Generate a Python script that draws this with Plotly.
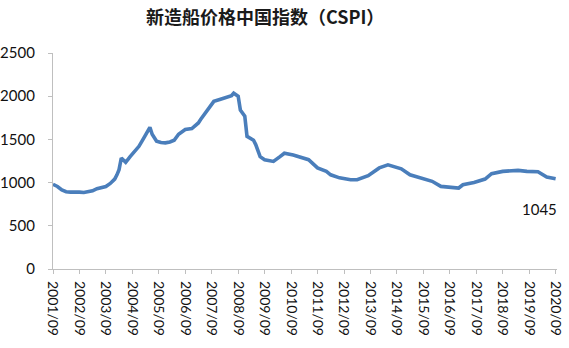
import plotly.graph_objects as go

dates = ["2001-09", "2001-11", "2002-01", "2002-03", "2002-05", "2002-07", "2002-09", "2002-11",
         "2003-01", "2003-03", "2003-05", "2003-07", "2003-09", "2003-11", "2004-01", "2004-02",
         "2004-03", "2004-04", "2004-06", "2004-08", "2004-10", "2004-12", "2005-02", "2005-04",
         "2005-05", "2005-06", "2005-08", "2005-10", "2005-12", "2006-02", "2006-04", "2006-06",
         "2006-09", "2006-12", "2007-03", "2007-04", "2007-07", "2007-10", "2008-01", "2008-04",
         "2008-06", "2008-07", "2008-09", "2008-10", "2008-12", "2009-01", "2009-04", "2009-05",
         "2009-07", "2009-09", "2010-01", "2010-04", "2010-06", "2010-10", "2011-03", "2011-05",
         "2011-09", "2012-01", "2012-03", "2012-07", "2012-12", "2013-03", "2013-08", "2014-01",
         "2014-05", "2014-11", "2015-03", "2015-08", "2016-01", "2016-05", "2016-09", "2017-01",
         "2017-03", "2017-08", "2018-01", "2018-04", "2018-09", "2019-04", "2019-08", "2020-01",
         "2020-05", "2020-09"]
cspi = [980, 955, 915, 895, 890, 895, 890, 885,
        890, 905, 930, 945, 955, 990, 1040, 1090,
        1150, 1285, 1235, 1300, 1360, 1420, 1510, 1600,
        1640, 1560, 1480, 1465, 1460, 1470, 1490, 1560,
        1615, 1625, 1690, 1730, 1830, 1940, 1965, 1990,
        2005, 2035, 2000, 1840, 1770, 1535, 1490, 1440,
        1300, 1265, 1245, 1300, 1340, 1320, 1275, 1265,
        1170, 1130, 1090, 1055, 1033, 1033, 1080, 1170,
        1205, 1160, 1090, 1053, 1015, 956, 944, 937,
        975, 1002, 1041, 1103, 1130, 1141, 1130, 1126,
        1064, 1045]

tick_vals = [f"{y}-09-01" for y in range(2001, 2021)]
tick_text = [f"{y}/09" for y in range(2001, 2021)]
y_ticks = [0, 500, 1000, 1500, 2000, 2500]
last_label = "1045"

fig = go.Figure()
fig.add_trace(go.Scatter(x=dates, y=cspi, mode="lines",
                         line=dict(color="#4a7ebb", width=3.6, shape="linear"),
                         hoverinfo="skip"))

fig.update_layout(
    width=569, height=348,
    margin=dict(l=53, r=12, t=53, b=79),
    paper_bgcolor="white", plot_bgcolor="white",
    showlegend=False,
    title=dict(text="<b>新造船价格中国指数（CSPI）</b>", x=0.466, xanchor="center",
               y=0.95, yanchor="middle",
               font=dict(family="Noto Sans CJK SC", size=18, color="#1a1a1a")),
    xaxis=dict(type="date", range=["2001-09-01", "2020-09-20"],
               tickvals=tick_vals, ticktext=tick_text, tickangle=90,
               showgrid=False, zeroline=False, automargin=False,
               showline=True, linecolor="#bfbfbf", linewidth=1.3,
               ticks="outside", ticklen=4, tickcolor="#bfbfbf",
               ticklabelstandoff=4,
               tickfont=dict(family="Lato", size=14, color="#111111")),
    yaxis=dict(range=[0, 2500], tickvals=y_ticks,
               showgrid=False, zeroline=False, automargin=False,
               showline=True, linecolor="#bfbfbf", linewidth=1.3,
               ticks="outside", ticklen=4, tickcolor="#bfbfbf",
               ticklabelstandoff=10,
               tickfont=dict(family="Lato", size=15, color="#111111")),
    annotations=[dict(x="2020-01-20", y=700, text=last_label, showarrow=False,
                      xanchor="center", yanchor="middle",
                      font=dict(family="Lato", size=15, color="#111111"))],
)

fig.write_html("out.html")
